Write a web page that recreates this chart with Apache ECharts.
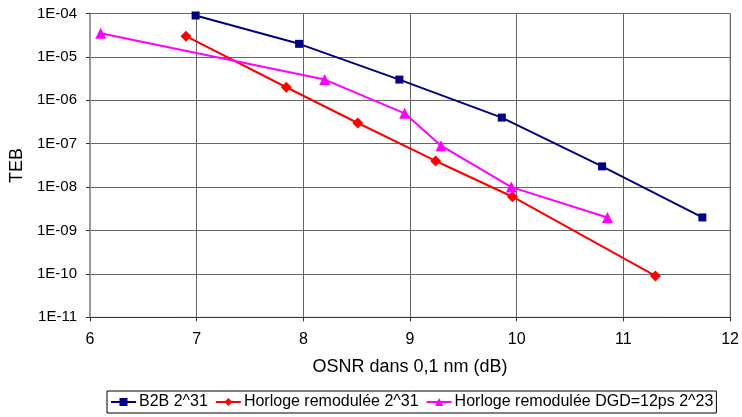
<!DOCTYPE html>
<html>
<head>
<meta charset="utf-8">
<script src="https://cdn.jsdelivr.net/npm/echarts@6/dist/echarts.min.js"></script>
<style>html,body{margin:0;padding:0;background:#fff}#c{width:742px;height:417px}</style>
</head>
<body>
<div id="c"></div>
<script>
const seriesNames = ['B2B 2^31', 'Horloge remodulée 2^31', 'Horloge remodulée DGD=12ps 2^23'];
const b2bX = [6.99, 7.96, 8.9, 9.86, 10.8, 11.74];
const b2bY = [9e-5, 2e-5, 3e-6, 4e-7, 3e-8, 2e-9];
const remodX = [6.9, 7.84, 8.51, 9.24, 9.96, 11.3];
const remodY = [3e-5, 2e-6, 3e-7, 4e-8, 6e-9, 9e-11];
const dgdX = [6.1, 8.2, 8.95, 9.29, 9.95, 10.85];
const dgdY = [3.5e-5, 3e-6, 5e-7, 9e-8, 1e-8, 2e-9];
const xTicks = [6, 7, 8, 9, 10, 11, 12];
const yTickLabels = ['1E-11','1E-10','1E-09','1E-08','1E-07','1E-06','1E-05','1E-04'];

const zip = (xs, ys) => xs.map((x, i) => [x, ys[i]]);
const font = 'Arial, "Liberation Sans", sans-serif';
const chart = echarts.init(document.getElementById('c'));
chart.setOption({
  animation: false,
  grid: { left: 90, right: 8, top: 13.5, bottom: 99.7, show: true, borderColor: '#9a9a9a', borderWidth: 1 },
  xAxis: {
    type: 'value', min: xTicks[0], max: xTicks[xTicks.length - 1], interval: 1,
    name: 'OSNR dans 0,1 nm (dB)', nameLocation: 'middle', nameGap: 41,
    nameTextStyle: { fontFamily: font, fontSize: 18, color: '#000' },
    axisLine: { show: true, lineStyle: { color: '#333', width: 1 } },
    axisTick: { show: true, length: 4, lineStyle: { color: '#333' } },
    axisLabel: { fontFamily: font, fontSize: 16, color: '#000', margin: 14 },
    splitLine: { show: true, lineStyle: { color: '#666', width: 1 } }
  },
  yAxis: {
    type: 'log', logBase: 10, min: 1e-11, max: 1e-4, splitNumber: 7,
    name: 'TEB', nameLocation: 'middle', nameGap: 63,
    nameTextStyle: { fontFamily: font, fontSize: 18, color: '#000' },
    axisLine: { show: true, lineStyle: { color: '#999', width: 2 } },
    axisTick: { show: true, length: 4, lineStyle: { color: '#333' } },
    axisLabel: {
      fontFamily: font, fontSize: 15, color: '#000', margin: 13,
      formatter: v => yTickLabels[Math.round(Math.log10(v)) + 11]
    },
    splitLine: { show: true, lineStyle: { color: '#666', width: 1 } },
    minorTick: { show: false }, minorSplitLine: { show: false }
  },
  legend: {
    left: 107, top: 391, orient: 'horizontal',
    borderColor: '#000', borderWidth: 1, padding: [3, 3, 3, 3],
    itemGap: 7, itemWidth: 25, itemHeight: 10,
    textStyle: { fontFamily: font, fontSize: 16, color: '#000', padding: [0, 0, 0, -2] },
    data: seriesNames
  },
  series: [
    { name: seriesNames[0], type: 'line', data: zip(b2bX, b2bY), symbol: 'rect', symbolSize: 8,
      lineStyle: { color: '#000080', width: 2 }, itemStyle: { color: '#000080' } },
    { name: seriesNames[1], type: 'line', data: zip(remodX, remodY), symbol: 'diamond', symbolSize: 11,
      lineStyle: { color: '#ff0000', width: 2 }, itemStyle: { color: '#ff0000' } },
    { name: seriesNames[2], type: 'line', data: zip(dgdX, dgdY), symbol: 'triangle', symbolSize: 11,
      lineStyle: { color: '#ff00ff', width: 2 }, itemStyle: { color: '#ff00ff' } }
  ]
});
</script>
</body>
</html>
